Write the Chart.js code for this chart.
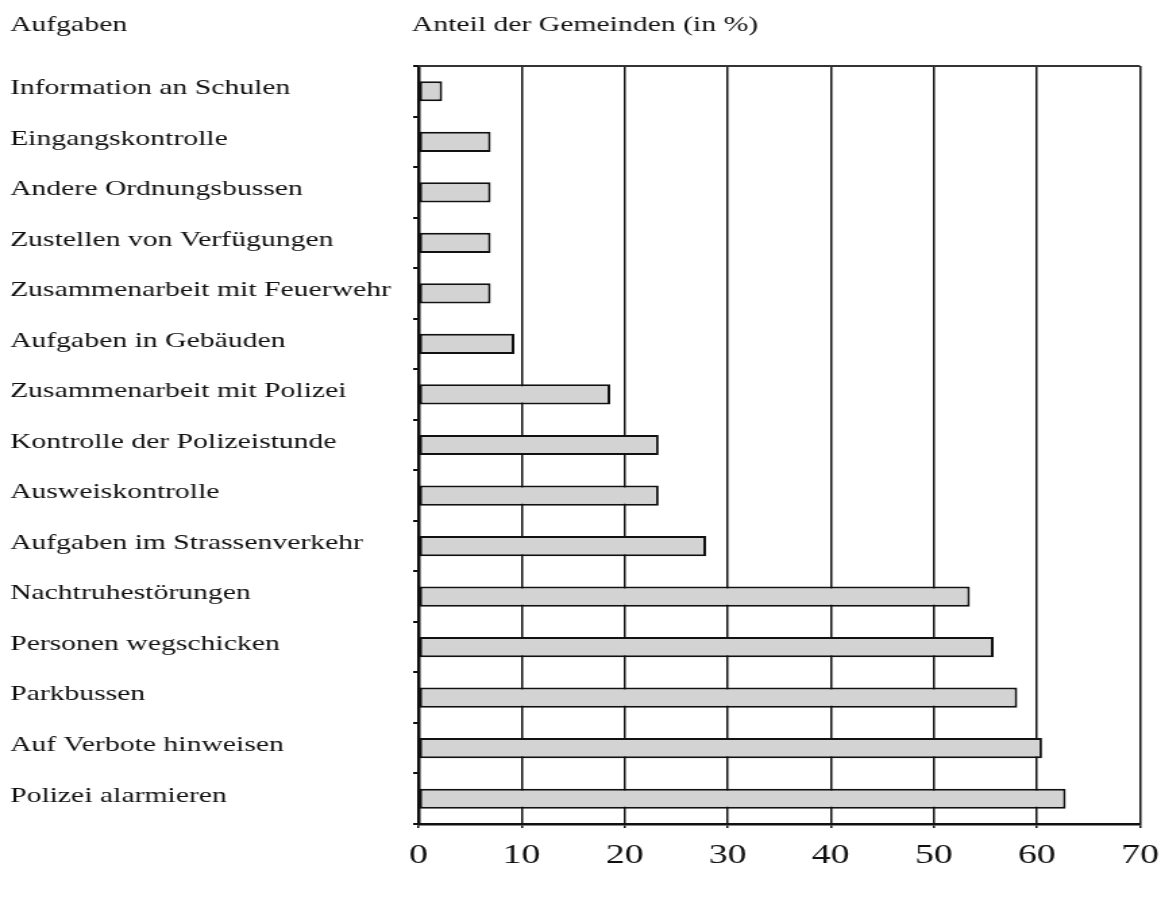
<!DOCTYPE html>
<html>
<head>
<meta charset="utf-8">
<script src="https://cdn.jsdelivr.net/npm/chart.js@4"></script>
<style>
  html, body { margin: 0; padding: 0; background: #fff; overflow: hidden; }
  #wrap { width: 860px; height: 909px; transform: scaleX(1.35); transform-origin: 0 0; }
</style>
</head>
<body>
<div id="wrap"><canvas id="chart" width="860" height="909"></canvas></div>
<script>
const aufgaben = [
    'Information an Schulen',
    'Eingangskontrolle',
    'Andere Ordnungsbussen',
    'Zustellen von Verfügungen',
    'Zusammenarbeit mit Feuerwehr',
    'Aufgaben in Gebäuden',
    'Zusammenarbeit mit Polizei',
    'Kontrolle der Polizeistunde',
    'Ausweiskontrolle',
    'Aufgaben im Strassenverkehr',
    'Nachtruhestörungen',
    'Personen wegschicken',
    'Parkbussen',
    'Auf Verbote hinweisen',
    'Polizei alarmieren'
];
const anteil = [2.3, 7.0, 7.0, 7.0, 7.0, 9.3, 18.6, 23.3, 23.3, 27.9, 53.5, 55.8, 58.1, 60.5, 62.8];
const xTicks = [0, 10, 20, 30, 40, 50, 60, 70];

const serif = '"Liberation Serif", "Times New Roman", serif';

// column headings above the chart + top frame line
const headings = {
    id: 'headings',
    afterDraw(chart) {
        const ctx = chart.ctx;
        const area = chart.chartArea;
        ctx.save();
        ctx.strokeStyle = '#333';
        ctx.lineWidth = 2;
        ctx.beginPath();
        ctx.moveTo(area.left, area.top);
        ctx.lineTo(area.right, area.top);
        ctx.stroke();
        ctx.fillStyle = '#111';
        ctx.font = '22px ' + serif;
        ctx.textBaseline = 'alphabetic';
        ctx.textAlign = 'left';
        ctx.fillText('Aufgaben', 7.4, 31);
        ctx.fillText('Anteil der Gemeinden (in %)', 305, 31);
        ctx.restore();
    }
};

new Chart(document.getElementById('chart'), {
    type: 'bar',
    data: {
        labels: aufgaben,
        datasets: [{
            data: anteil,
            backgroundColor: '#d3d3d3',
            borderColor: '#111',
            borderWidth: 2,
            borderSkipped: false,
            barPercentage: 0.4,
            categoryPercentage: 1
        }]
    },
    options: {
        indexAxis: 'y',
        responsive: false,
        animation: false,
        layout: { padding: { left: 7.4, right: 15.6, top: 66, bottom: 0 } },
        plugins: {
            legend: { display: false },
            tooltip: { enabled: false }
        },
        scales: {
            x: {
                min: 0,
                max: 70,
                afterBuildTicks(scale) {
                    scale.ticks = xTicks.map(v => ({ value: v }));
                },
                afterFit(scale) {
                    scale.height = 85;
                    scale.paddingRight = 0;
                    scale.paddingLeft = 0;
                },
                border: { display: true, color: '#111', width: 2.5 },
                grid: { color: '#111', lineWidth: 1.5, tickLength: 4 },
                ticks: {
                    color: '#111',
                    padding: 11,
                    maxRotation: 0,
                    font: { family: serif, size: 28 }
                }
            },
            y: {
                afterFit(scale) { scale.width = 302.6; },
                border: { display: true, color: '#111', width: 2.5 },
                grid: { drawOnChartArea: false, color: '#111', lineWidth: 2, tickLength: 4, offset: true },
                ticks: {
                    color: '#111',
                    crossAlign: 'far',
                    labelOffset: -3,
                    autoSkip: false,
                    font: { family: serif, size: 22 }
                }
            }
        }
    },
    plugins: [headings]
});
</script>
</body>
</html>
